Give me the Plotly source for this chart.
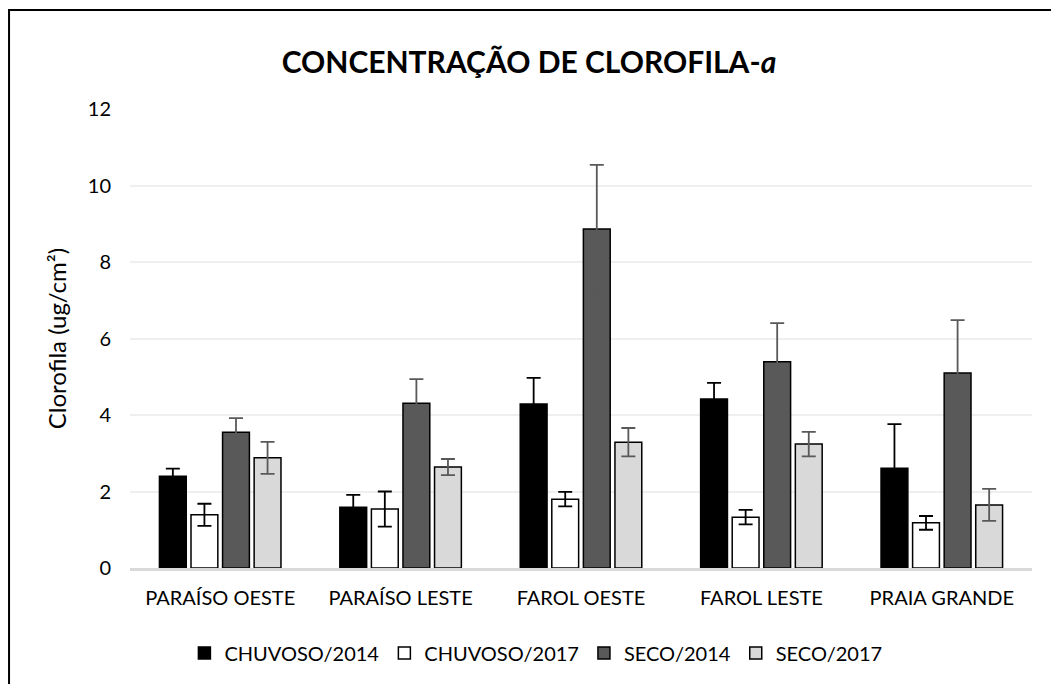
import plotly.graph_objects as go

sites = ["PARAÍSO OESTE", "PARAÍSO LESTE", "FAROL OESTE", "FAROL LESTE", "PRAIA GRANDE"]

chuvoso_2014 = [2.40, 1.59, 4.29, 4.42, 2.61]
chuvoso_2014_err = [0.20, 0.32, 0.68, 0.42, 1.15]
chuvoso_2017 = [1.39, 1.54, 1.80, 1.33, 1.18]
chuvoso_2017_err = [0.29, 0.46, 0.19, 0.19, 0.18]
seco_2014 = [3.55, 4.31, 8.86, 5.39, 5.10]
seco_2014_err = [0.37, 0.63, 1.68, 1.01, 1.38]
seco_2017 = [2.88, 2.64, 3.29, 3.24, 1.65]
seco_2017_err = [0.42, 0.21, 0.37, 0.32, 0.42]

series = [
    ("CHUVOSO/2014", chuvoso_2014, chuvoso_2014_err, "#000000", "#000000"),
    ("CHUVOSO/2017", chuvoso_2017, chuvoso_2017_err, "#ffffff", "#000000"),
    ("SECO/2014", seco_2014, seco_2014_err, "#595959", "#595959"),
    ("SECO/2017", seco_2017, seco_2017_err, "#d9d9d9", "#595959"),
]

fig = go.Figure()
for name, vals, errs, col, ecol in series:
    fig.add_trace(go.Bar(
        x=sites, y=vals, name=name,
        marker=dict(color=col, line=dict(color="#000000", width=1.5)),
        error_y=dict(type="data", array=errs, symmetric=True,
                     color=ecol, thickness=1.8, width=7),
    ))

# page body has an 8px margin, so the figure is 8px smaller and the margins shifted
fnt = "Lato, 'Open Sans', sans-serif"
fig.update_layout(
    width=1051, height=676,
    margin=dict(l=122, r=27, t=101, b=116),
    paper_bgcolor="white", plot_bgcolor="white",
    barmode="group", bargap=0.3, bargroupgap=0.15,
    font=dict(family=fnt, size=20, color="#000000"),
    title=dict(text="<b>CONCENTRAÇÃO DE CLOROFILA-<i>a</i></b>",
               x=0.4957, xanchor="center", y=0.92, yanchor="middle",
               font=dict(family=fnt, size=30, color="#000000")),
    legend=dict(orientation="h", x=0.45, xanchor="center", y=-0.185, yanchor="middle",
                font=dict(size=20), itemwidth=30, traceorder="normal"),
    yaxis=dict(range=[0, 12], dtick=2, showgrid=True, gridcolor="#efefef", gridwidth=1.5,
               zeroline=False, showline=False, ticks="", ticklabelstandoff=18,
               title=dict(text="Clorofila (ug/cm²)", font=dict(size=24), standoff=14)),
    xaxis=dict(showline=True, linecolor="#d9d9d9", linewidth=2.5, ticks="",
               ticklabelstandoff=10, tickfont=dict(size=20)),
    shapes=[dict(type="rect", xref="paper", yref="paper",
                 x0=-0.1341, x1=1.0222, y0=-0.3, y1=1.2157,
                 line=dict(color="#000000", width=2), fillcolor="rgba(0,0,0,0)", layer="below")],
)

fig.write_html("out.html")
